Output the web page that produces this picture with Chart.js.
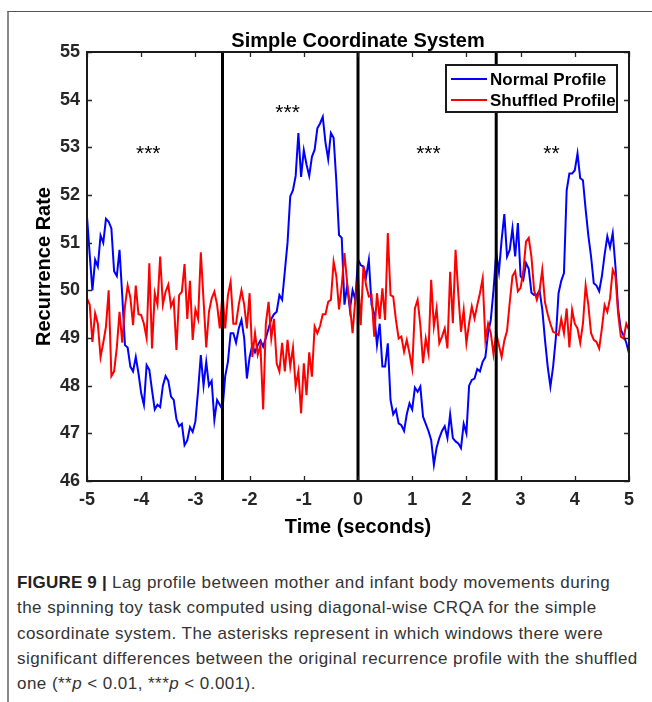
<!DOCTYPE html>
<html><head><meta charset="utf-8">
<script src="https://cdn.jsdelivr.net/npm/chart.js@4.4.0/dist/chart.umd.min.js"></script>
<style>
html,body{margin:0;padding:0;background:#fff;}
#wrap{position:relative;width:652px;height:702px;overflow:hidden;}
#frame{position:absolute;left:7px;top:11px;width:700px;height:700px;border-left:2px solid #8a8a8a;border-top:1px solid #555;box-sizing:border-box;}
#cv{position:absolute;left:0;top:0;}
#cap{position:absolute;left:17px;top:570px;font-family:"Liberation Sans",Arial,sans-serif;font-size:17px;letter-spacing:0.45px;line-height:25.3px;color:#333;white-space:nowrap;}
</style></head>
<body>
<div id="wrap">
<div id="frame"></div>
<canvas id="cv" width="652" height="560" style="width:652px;height:560px"></canvas>
<div id="cap"><b style="color:#222;letter-spacing:0.2px">FIGURE 9 |</b> Lag profile between mother and infant body movements during<br>the spinning toy task computed using diagonal-wise CRQA for the simple<br>cosordinate system. The asterisks represent in which windows there were<br>significant differences between the original recurrence profile with the shuffled<br>one (**<i>p</i> &lt; 0.01, ***<i>p</i> &lt; 0.001).</div>
</div>
<script>
const titleText = 'Simple Coordinate System';
const xLabel = 'Time (seconds)';
const yLabel = 'Recurrence Rate';
const seriesNames = ['Normal Profile', 'Shuffled Profile'];
const xTicks = [-5,-4,-3,-2,-1,0,1,2,3,4,5];
const yTicks = [46,47,48,49,50,51,52,53,54,55];
const windowEdges = [-2.5, 0, 2.55];
const starTimes = [-3.87, -1.3, 1.3, 3.57];
const starLabels = ['***','***','***','**'];
const starLevels = [52.99, 53.85, 52.99, 52.99];

const times = [
-5,-4.95,-4.9,-4.85,-4.8,-4.75,-4.7,-4.65,-4.6,-4.55,
-4.5,-4.45,-4.4,-4.35,-4.3,-4.25,-4.2,-4.15,-4.1,-4.05,
-4,-3.95,-3.9,-3.85,-3.8,-3.75,-3.7,-3.65,-3.6,-3.55,
-3.5,-3.45,-3.4,-3.35,-3.3,-3.25,-3.2,-3.15,-3.1,-3.05,
-3,-2.95,-2.9,-2.85,-2.8,-2.75,-2.7,-2.65,-2.6,-2.55,
-2.5,-2.45,-2.4,-2.35,-2.3,-2.25,-2.2,-2.15,-2.1,-2.05,
-2,-1.95,-1.9,-1.85,-1.8,-1.75,-1.7,-1.65,-1.6,-1.55,
-1.5,-1.45,-1.4,-1.35,-1.3,-1.25,-1.2,-1.15,-1.1,-1.05,
-1,-0.95,-0.9,-0.85,-0.8,-0.75,-0.7,-0.65,-0.6,-0.55,
-0.5,-0.45,-0.4,-0.35,-0.3,-0.25,-0.2,-0.15,-0.1,-0.05,
0,0.05,0.1,0.15,0.2,0.25,0.3,0.35,0.4,0.45,
0.5,0.55,0.6,0.65,0.7,0.75,0.8,0.85,0.9,0.95,
1,1.05,1.1,1.15,1.2,1.25,1.3,1.35,1.4,1.45,
1.5,1.55,1.6,1.65,1.7,1.75,1.8,1.85,1.9,1.95,
2,2.05,2.1,2.15,2.2,2.25,2.3,2.35,2.4,2.45,
2.5,2.55,2.6,2.65,2.7,2.75,2.8,2.85,2.9,2.95,
3,3.05,3.1,3.15,3.2,3.25,3.3,3.35,3.4,3.45,
3.5,3.55,3.6,3.65,3.7,3.75,3.8,3.85,3.9,3.95,
4,4.05,4.1,4.15,4.2,4.25,4.3,4.35,4.4,4.45,
4.5,4.55,4.6,4.65,4.7,4.75,4.8,4.85,4.9,4.95,
5];

const normalProfile = [
51.55,50.75,50.0,50.64,50.5,51.15,51.0,51.5,51.44,51.3,
50.4,50.3,50.85,49.9,48.85,48.8,48.4,48.3,48.6,48.26,
47.84,47.6,48.43,48.33,47.9,47.5,47.6,47.55,48.0,48.2,
48.1,47.77,47.7,47.3,47.15,47.2,46.75,46.85,47.13,47.03,
47.25,47.9,48.64,48.0,48.5,48.0,48.1,47.28,47.7,47.6,
47.5,48.2,48.5,49.1,49.1,48.9,49.2,49.38,49.0,48.15,
48.6,48.85,48.7,48.85,48.95,48.82,49.0,49.2,49.4,49.5,
49.55,49.9,49.8,50.4,51.0,51.97,52.1,52.4,53.3,52.38,
52.94,52.64,52.4,52.8,52.95,53.4,53.5,53.64,53.1,52.75,
53.3,53.2,52.3,51.16,51.1,49.7,50.1,49.6,50.0,49.8,
50.65,50.53,50.5,50.29,50.64,49.7,49.5,48.85,49.3,48.4,
48.4,48.89,47.7,47.4,47.5,47.21,47.17,47.05,47.4,47.63,
47.5,47.96,47.87,47.98,47.35,47.2,47.05,46.86,46.34,46.7,
46.9,47.05,47.15,46.9,47.4,46.9,46.83,46.79,46.69,47.2,
47.0,48.0,48.12,48.15,48.35,48.3,48.5,48.6,49.1,49.38,
50.0,50.78,50.39,51.06,51.6,50.71,50.85,51.3,50.71,51.41,
50.3,50.22,50.57,50.45,49.95,49.9,49.9,50.0,49.6,48.96,
48.4,47.98,48.4,49.0,49.94,50.2,50.36,52.1,52.45,52.45,
52.52,52.87,52.35,52.31,51.7,51.15,50.71,50.15,50.1,49.98,
50.3,50.75,51.13,50.9,51.2,50.5,49.6,49.17,49.05,48.9,
48.68];

const shuffledProfile = [
49.83,49.7,48.92,49.52,49.3,48.6,48.9,49.24,50.0,48.2,
48.3,48.8,49.55,48.9,49.66,50.1,49.85,49.27,50.1,49.5,
49.48,49.3,49.0,50.57,48.78,49.94,49.7,50.71,49.7,49.97,
50.12,49.66,49.8,48.75,49.9,49.97,50.55,49.4,50.2,48.96,
49.6,49.4,50.8,49.8,48.8,49.55,49.83,49.97,49.7,49.2,
49.94,49.2,49.9,50.18,49.3,49.3,49.7,50.0,49.7,49.2,
49.94,48.6,49.1,48.65,48.85,47.5,49.3,49.76,48.99,49.4,
48.47,48.3,48.9,48.3,48.96,48.4,48.8,47.98,48.3,47.42,
48.47,47.8,48.7,48.19,49.24,49.1,49.25,49.5,49.5,49.76,
49.8,50.6,50.3,49.6,50.1,50.78,50.15,49.7,49.1,49.8,
50.3,49.27,50.5,50.1,49.87,49.9,49.03,49.94,49.4,50.04,
49.38,51.2,49.9,49.87,49.38,48.99,49.03,48.71,48.96,48.68,
48.36,49.62,49.8,49.27,48.47,48.99,48.68,50.22,49.24,49.62,
48.89,49.03,49.2,48.78,50.39,49.31,50.85,49.94,49.13,49.59,
48.89,49.31,49.66,49.41,49.69,49.94,50.25,48.96,49.3,49.1,
48.66,49.1,48.85,48.6,48.95,49.15,49.75,50.3,50.4,49.98,
50.05,50.4,51.02,51.1,50.7,50.0,49.8,50.0,50.43,49.75,
49.5,49.3,49.13,49.1,49.06,49.4,49.1,49.62,48.8,49.59,
49.3,49.2,48.9,49.3,50.1,49.69,49.1,48.96,48.92,48.78,
49.2,49.69,49.55,49.83,50.43,50.3,49.5,49.03,48.99,49.3,
49.17];

const FONT = '"Liberation Sans", Arial, Helvetica, sans-serif';
Chart.defaults.font.family = FONT;

const yMin = yTicks[0], yMax = yTicks[yTicks.length-1];
const toPts = arr => times.map((t,i)=>({x:t, y:arr[i]}));

const windowSets = windowEdges.map(e => ({
  label: 'window', data: [{x:e, y:yMin}, {x:e, y:yMax}],
  borderColor: '#000', borderWidth: 3, pointRadius: 0, tension: 0
}));

const decor = {
  id: 'decor',
  afterDraw(chart) {
    const {ctx, chartArea: a, scales: {x, y}} = chart;
    ctx.save();
    ctx.strokeStyle = '#262626';
    ctx.lineWidth = 1.3;
    ctx.beginPath();
    xTicks.forEach(v => {
      const px = Math.round(x.getPixelForValue(v)) + 0.5;
      ctx.moveTo(px, a.bottom); ctx.lineTo(px, a.bottom - 5);
      ctx.moveTo(px, a.top); ctx.lineTo(px, a.top + 5);
    });
    yTicks.forEach(v => {
      const py = Math.round(y.getPixelForValue(v)) + 0.5;
      ctx.moveTo(a.left, py); ctx.lineTo(a.left + 5, py);
      ctx.moveTo(a.right, py); ctx.lineTo(a.right - 5, py);
    });
    ctx.stroke();
    ctx.lineWidth = 2;
    ctx.strokeStyle = '#1a1a1a';
    ctx.strokeRect(a.left, a.top, a.right - a.left, a.bottom - a.top);
    ctx.fillStyle = '#000';
    ctx.font = 'bold 20px ' + FONT;
    ctx.textAlign = 'center';
    ctx.textBaseline = 'middle';
    ctx.fillText(titleText, (a.left + a.right) / 2, a.top - 11);
    ctx.font = '21px ' + FONT;
    ctx.textBaseline = 'alphabetic';
    starTimes.forEach((t, i) => {
      ctx.fillText(starLabels[i], x.getPixelForValue(t), y.getPixelForValue(starLevels[i]) + 12);
    });
    const w = 171, h = 47;
    const lx = a.right - 12 - w, ly = a.top + 13;
    ctx.fillStyle = '#fff';
    ctx.fillRect(lx, ly, w, h);
    ctx.lineWidth = 2;
    ctx.strokeStyle = '#1a1a1a';
    ctx.strokeRect(lx, ly, w, h);
    const cols = [chart.data.datasets[4].borderColor, chart.data.datasets[3].borderColor];
    ctx.font = 'bold 17px ' + FONT;
    ctx.textAlign = 'left';
    ctx.textBaseline = 'middle';
    seriesNames.forEach((n, i) => {
      const ry = ly + 14 + i * 21;
      ctx.strokeStyle = cols[i];
      ctx.lineWidth = 2;
      ctx.beginPath(); ctx.moveTo(lx + 5, ry); ctx.lineTo(lx + 41, ry); ctx.stroke();
      ctx.fillStyle = '#000';
      ctx.fillText(n, lx + 44, ry + 1);
    });
    ctx.restore();
  }
};

new Chart(document.getElementById('cv'), {
  type: 'line',
  data: {
    datasets: [
      ...windowSets,
      { label: seriesNames[1], data: toPts(shuffledProfile), borderColor: '#ff0000', borderWidth: 2, pointRadius: 0, tension: 0 },
      { label: seriesNames[0], data: toPts(normalProfile), borderColor: '#0000ff', borderWidth: 2, pointRadius: 0, tension: 0 }
    ]
  },
  options: {
    responsive: false,
    animation: false,
    layout: { padding: { left: 0, right: 23, top: 52, bottom: 0 } },
    plugins: { legend: { display: false }, tooltip: { enabled: false }, title: { display: false } },
    scales: {
      x: {
        type: 'linear', min: -5, max: 5,
        ticks: { stepSize: 1, autoSkip: false, maxRotation: 0, padding: 8, color: '#262626',
                 font: { size: 18, weight: 'bold' } },
        grid: { display: false, drawTicks: false },
        border: { display: false },
        title: { display: true, text: xLabel, color: '#000', font: { size: 20, weight: 'bold' }, padding: { top: 0, bottom: 21 } },
        afterFit: s => { s.height = 79; }
      },
      y: {
        min: yMin, max: yMax,
        ticks: { stepSize: 1, padding: 7, color: '#262626', font: { size: 18, weight: 'bold' } },
        grid: { display: false, drawTicks: false },
        border: { display: false },
        title: { display: true, text: yLabel, color: '#000', font: { size: 20, weight: 'bold' }, padding: { top: 32, bottom: 0 } },
        afterFit: s => { s.width = 87; }
      }
    }
  },
  plugins: [decor]
});
</script>
</body></html>
